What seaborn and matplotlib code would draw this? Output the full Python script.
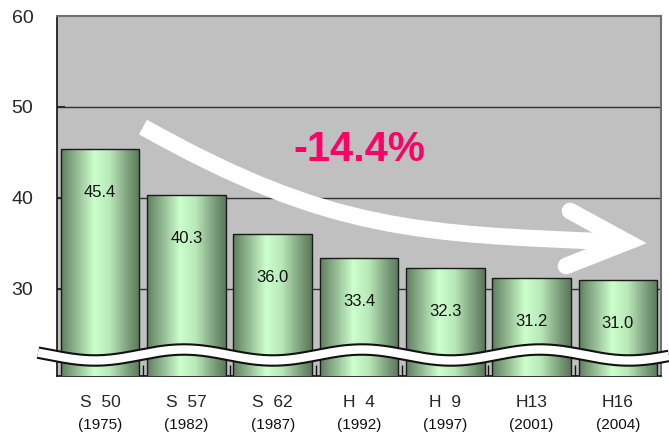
import matplotlib
matplotlib.use('Agg')
import matplotlib.pyplot as plt
import matplotlib.patheffects as pe
from matplotlib.path import Path
from matplotlib.patches import PathPatch
from matplotlib.colors import LinearSegmentedColormap
import seaborn as sns
import pandas as pd
import numpy as np

# data
eras = ['S  50', 'S  57', 'S  62', 'H  4', 'H  9', 'H13', 'H16']
years = ['(1975)', '(1982)', '(1987)', '(1992)', '(1997)', '(2001)', '(2004)']
values = [45.4, 40.3, 36.0, 33.4, 32.3, 31.2, 31.0]
change_label = '-14.4%'

df = pd.DataFrame({'era': eras, 'value': values})

sns.set_theme(style='white')
plt.rcParams['font.family'] = ['Liberation Sans', 'DejaVu Sans']

W, H = 669, 432
YMIN, YMAX = 20.4, 60
fig = plt.figure(figsize=(W / 100, H / 100), dpi=100)
ax = fig.add_axes([57 / W, 1 - 376 / H, (661 - 57) / W, (376 - 16) / H])
ax.set_facecolor('#c0c0c0')

sns.barplot(data=df, x='era', y='value', ax=ax, width=0.91,
            color='#b0d8b0', edgecolor='#1a1a1a', linewidth=1.0, zorder=3)

for y in [30, 40, 50]:
    ax.axhline(y, color='#303030', lw=1.0, zorder=1)

# gradient fill on the bars
cmap = LinearSegmentedColormap.from_list('bar', [
    (0.0, '#5f7f5f'), (0.18, '#8fb48f'), (0.42, '#ccffcc'),
    (0.62, '#b8e8b8'), (0.85, '#7d9f7d'), (1.0, '#5a785a')])
grad = np.linspace(0, 1, 256).reshape(1, -1)
for p in ax.patches:
    x0, w = p.get_x(), p.get_width()
    h = p.get_height()
    im = ax.imshow(grad, cmap=cmap, aspect='auto',
                   extent=[x0, x0 + w, YMIN, h], zorder=3.5)
    im.set_clip_path(p)
    p.set_facecolor('none')
    p.set_zorder(4)
ax.set_aspect('auto')
ax.set_xlim(-0.5, len(eras) - 0.5)
ax.set_ylim(YMIN, YMAX)
ax.set_yticks([30, 40, 50, 60])

# value labels
for i, v in enumerate(values):
    ax.text(i, v - 4.8, f'{v:.1f}', ha='center', va='center',
            fontsize=12, color='#111111', zorder=6)

# axes styling
for s in ['left', 'bottom']:
    ax.spines[s].set_color('#111111')
    ax.spines[s].set_linewidth(1.2)
for s in ['top', 'right']:
    ax.spines[s].set_color('#707070')
    ax.spines[s].set_linewidth(1.5)
ax.tick_params(axis='y', direction='in', length=6, color='#111111',
               labelsize=14, pad=17, left=True)
ax.set_xticks(range(len(eras)))
ax.set_xticklabels(eras, fontsize=12.5)
ax.tick_params(axis='x', length=0, pad=14)
ax.set_xticks(np.arange(0.5, len(eras) - 0.5), minor=True)
ax.tick_params(axis='x', which='minor', direction='in', length=8,
               color='#111111', bottom=True)
ax.set_xlabel('')
ax.set_ylabel('')
for i, yr in enumerate(years):
    ax.text(i, -0.137, yr, transform=ax.get_xaxis_transform(),
            ha='center', va='center', fontsize=11, color='#111111')

# break mark (wavy band)
xs = np.linspace(38, 669, 300)
ys = 355 + 5.5 * np.cos(2 * np.pi * (xs - 95) / 178)
fig.add_artist(plt.Line2D(xs / W, 1 - ys / H, transform=fig.transFigure,
                          color='white', lw=6, zorder=10, solid_capstyle='butt',
                          path_effects=[pe.Stroke(linewidth=9, foreground='#111111'),
                                        pe.Normal()]))

# trend arrow
verts = [(143 / W, 1 - 127 / H), (330 / W, 1 - 232 / H),
         (420 / W, 1 - 234 / H), (618 / W, 1 - 242 / H)]
path = Path(verts, [Path.MOVETO, Path.CURVE4, Path.CURVE4, Path.CURVE4])
fig.add_artist(PathPatch(path, transform=fig.transFigure, facecolor='none',
                         edgecolor='white', lw=12, capstyle='butt', zorder=8))
head = [(570 / W, 1 - 211 / H), (627 / W, 1 - 242 / H), (566 / W, 1 - 266 / H)]
hx, hy = zip(*head)
fig.add_artist(plt.Line2D(hx, hy, transform=fig.transFigure, color='white',
                          lw=12, solid_capstyle='round', solid_joinstyle='miter',
                          zorder=8))

fig.text(359 / W, 1 - 150 / H, change_label, ha='center', va='center',
         fontsize=30, fontweight='bold', color='#ff0066', zorder=9)

fig.savefig('out.png', dpi=100)
